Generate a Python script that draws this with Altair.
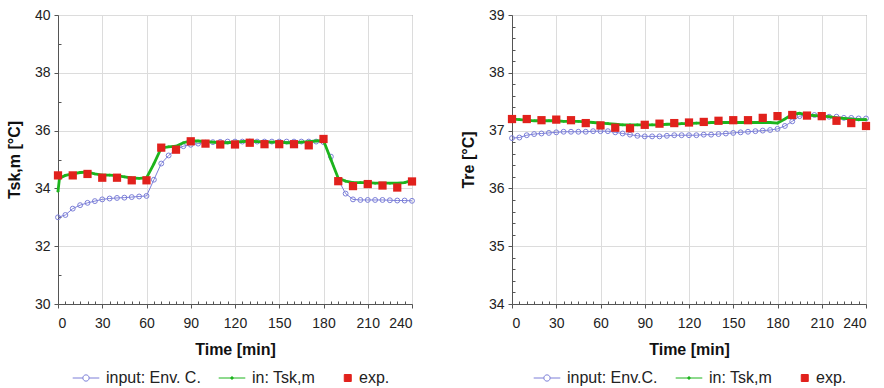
import altair as alt
import pandas as pd

# ---------------- data ----------------
TIME_5 = list(range(0, 245, 5))
TIME_GREEN = [0, 1] + list(range(5, 245, 5))
TIME_EXP = list(range(0, 250, 10))

LEFT_BLUE = [33.00, 33.08, 33.30, 33.42, 33.50, 33.56, 33.62, 33.65, 33.67, 33.68,
             33.70, 33.72, 33.74, 34.30, 34.86, 35.14, 35.35, 35.46, 35.51, 35.55,
             35.58, 35.60, 35.61, 35.62, 35.62, 35.62, 35.62, 35.62, 35.62, 35.62,
             35.62, 35.62, 35.62, 35.62, 35.62, 35.62, 35.60, 35.10, 34.30, 33.82,
             33.62, 33.60, 33.60, 33.60, 33.60, 33.59, 33.58, 33.58, 33.57]
LEFT_GREEN = [33.90, 34.35, 34.45, 34.50, 34.55, 34.56, 34.50, 34.46, 34.46, 34.44,
              34.40, 34.36, 34.35, 34.36, 34.85, 35.40, 35.44, 35.46, 35.58, 35.64,
              35.64, 35.62, 35.60, 35.58, 35.58, 35.60, 35.62, 35.64, 35.62, 35.60,
              35.60, 35.60, 35.58, 35.58, 35.60, 35.62, 35.64, 35.66, 35.00, 34.35,
              34.25, 34.20, 34.20, 34.20, 34.18, 34.18, 34.18, 34.18, 34.20, 34.28]
LEFT_EXP = [34.45, 34.45, 34.50, 34.37, 34.37, 34.28, 34.28, 35.41, 35.34, 35.63,
            35.55, 35.52, 35.52, 35.58, 35.53, 35.53, 35.53, 35.49, 35.71, 34.25,
            34.08, 34.15, 34.10, 34.03, 34.24]

RIGHT_BLUE = [36.87, 36.88, 36.92, 36.94, 36.95, 36.96, 36.97, 36.98, 36.98, 36.98,
              36.98, 36.99, 36.99, 36.99, 36.97, 36.95, 36.93, 36.91, 36.90, 36.90,
              36.90, 36.91, 36.92, 36.92, 36.92, 36.92, 36.93, 36.93, 36.94, 36.95,
              36.96, 36.97, 36.98, 36.99, 37.00, 37.01, 37.03, 37.08, 37.16, 37.25,
              37.27, 37.27, 37.26, 37.24, 37.24, 37.22, 37.22, 37.21, 37.21]
RIGHT_GREEN = [37.20, 37.20, 37.19, 37.18, 37.17, 37.17, 37.17, 37.17, 37.16, 37.16,
               37.16, 37.15, 37.14, 37.13, 37.12, 37.11, 37.10, 37.10, 37.10, 37.10,
               37.10, 37.10, 37.11, 37.11, 37.12, 37.12, 37.13, 37.13, 37.14, 37.14,
               37.14, 37.14, 37.14, 37.14, 37.14, 37.14, 37.14, 37.13, 37.20, 37.28,
               37.30, 37.27, 37.26, 37.25, 37.24, 37.22, 37.21, 37.20, 37.19, 37.19]
RIGHT_EXP = [37.20, 37.20, 37.18, 37.19, 37.18, 37.13, 37.09, 37.05, 37.04, 37.10,
             37.12, 37.13, 37.14, 37.15, 37.17, 37.18, 37.18, 37.22, 37.25, 37.27,
             37.26, 37.25, 37.17, 37.13, 37.08]

LEFT_NAMES = ["input: Env. C.", "in: Tsk,m", "exp."]
RIGHT_NAMES = ["input: Env.C.", "in: Tsk,m", "exp."]

X_MAJOR = list(range(0, 241, 30))
X_MINOR = [t for t in range(0, 241, 5) if t % 30 != 0]
LEFT_Y_MAJOR = [30, 32, 34, 36, 38, 40]
LEFT_Y_MINOR = [31, 33, 35, 37, 39]
RIGHT_Y_MAJOR = [34, 35, 36, 37, 38, 39]
RIGHT_Y_MINOR = [round(34 + 0.2 * i, 1) for i in range(26) if i % 5 != 0]

# ---------------- style ----------------
BLUE = "#7C7FD8"
GREEN = "#1DB41D"
RED = "#E1211C"
FONT = "Liberation Sans"
TXT = "#222222"

P_BLUE = ("M-3.8,0L-0.9,0M0.9,0L3.8,0"
          "M0.9,0A0.9,0.9 0 1 1 -0.9,0A0.9,0.9 0 1 1 0.9,0Z")
P_GREEN = ("M-3.8,0L3.8,0"
           "M0.35,0A0.35,0.35 0 1 1 -0.35,0A0.35,0.35 0 1 1 0.35,0Z")
P_RED = "M1.5,-1L3.5,-1L3.5,1L1.5,1Z"

W, H = 354, 289


def panel(blue_vals, green_vals, exp_vals, names, ytitle, ydom, ymajor, yminor, legx):
    rows = []
    for t, v in zip(TIME_5, blue_vals):
        rows.append({"t": t, "v": v, "s": names[0]})
    for t, v in zip(TIME_GREEN, green_vals):
        rows.append({"t": t, "v": v, "s": names[1]})
    for t, v in zip(TIME_EXP, exp_vals):
        rows.append({"t": t, "v": v, "s": names[2]})
    df = pd.DataFrame(rows)
    base = alt.Chart(df)

    x_main = alt.X("t:Q",
                   scale=alt.Scale(domain=[0, 240], nice=False, zero=False),
                   axis=alt.Axis(values=X_MAJOR, title="Time [min]", tickSize=4,
                                 labelPadding=8, titlePadding=11, grid=True,
                                 orient="bottom"))
    y_main = alt.Y("v:Q",
                   scale=alt.Scale(domain=ydom, nice=False, zero=False),
                   axis=alt.Axis(values=ymajor, title=ytitle, tickSize=4,
                                 labelPadding=4, titlePadding=12, grid=True,
                                 orient="left"))
    x_none = alt.X("t:Q", axis=None)
    y_none = alt.Y("v:Q", axis=None)

    blue = base.transform_filter(alt.datum.s == names[0]).mark_line(
        color=BLUE, strokeWidth=1,
        point=alt.OverlayMarkDef(shape="circle", filled=False, size=24,
                                 color=BLUE, strokeWidth=1)
    ).encode(x=x_main, y=y_main)

    green = base.transform_filter(alt.datum.s == names[1]).mark_line(
        color=GREEN, strokeWidth=2.8,
        point=alt.OverlayMarkDef(shape="circle", filled=True, size=7, color=GREEN)
    ).encode(x=x_none, y=y_none)

    exp = base.transform_filter(alt.datum.s == names[2]).mark_square(
        color=RED, size=68, opacity=1
    ).encode(x=x_none, y=y_none)

    leg = alt.Legend(title=None, orient="none", legendX=legx, legendY=355,
                     direction="horizontal", symbolSize=49, symbolStrokeWidth=1,
                     symbolOpacity=1, labelFont=FONT, labelFontSize=16,
                     labelColor=TXT, labelOffset=12, columnPadding=15,
                     labelLimit=300, padding=0)

    legend_layer = base.mark_point(opacity=0, filled=True).encode(
        x=alt.X("t:Q", axis=alt.Axis(values=X_MINOR, labels=False, domain=False,
                                     grid=False, tickSize=3, offset=-3,
                                     title=None, orient="bottom")),
        y=alt.Y("v:Q", axis=alt.Axis(values=yminor, labels=False, domain=False,
                                     grid=False, tickSize=3, offset=-3,
                                     title=None, orient="left")),
        shape=alt.Shape("s:N", scale=alt.Scale(domain=names, range=[P_BLUE, P_GREEN, P_RED]), legend=leg),
        fill=alt.Fill("s:N", scale=alt.Scale(domain=names, range=["white", GREEN, RED]), legend=leg),
        stroke=alt.Stroke("s:N", scale=alt.Scale(domain=names, range=[BLUE, GREEN, RED]), legend=leg),
    )

    return alt.layer(blue, green, exp, legend_layer).resolve_axis(
        x="independent", y="independent"
    ).properties(width=W, height=H)


left = panel(LEFT_BLUE, LEFT_GREEN, LEFT_EXP, LEFT_NAMES, "Tsk,m [°C]",
             [30, 40], LEFT_Y_MAJOR, LEFT_Y_MINOR, 20)
right = panel(RIGHT_BLUE, RIGHT_GREEN, RIGHT_EXP, RIGHT_NAMES, "Tre  [°C]",
              [34, 39], RIGHT_Y_MAJOR, RIGHT_Y_MINOR, 27)

chart = alt.hconcat(left, right, spacing=36).resolve_scale(
    shape="independent", fill="independent", stroke="independent"
).resolve_legend(
    shape="independent", fill="independent", stroke="independent"
).properties(
    padding={"left": 5, "top": 7, "right": 5, "bottom": 0},
    background="white",
).configure_axis(
    labelFont=FONT, labelFontSize=14, labelColor=TXT,
    titleFont=FONT, titleFontSize=16, titleFontWeight="bold", titleColor="#111111",
    domainColor="#555555", tickColor="#555555",
    gridColor="#dcdcdc", gridWidth=1,
).configure_view(stroke="#777777", strokeWidth=1)

chart.save("out.html", embed_options={"renderer": "svg", "actions": False})
